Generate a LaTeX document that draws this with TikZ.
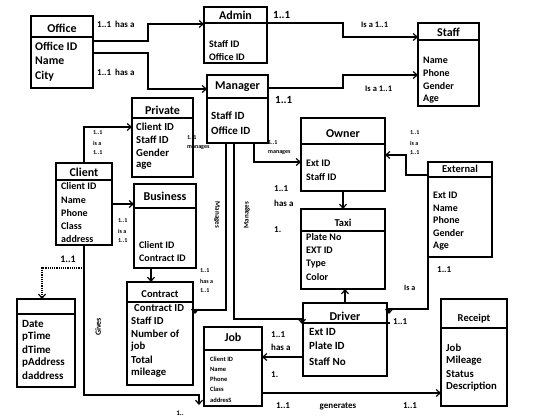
\documentclass[tikz,border=0pt]{standalone}
\usepackage{fontspec}
\setmainfont{Carlito}
\usetikzlibrary{arrows.meta}
\tikzset{
  ent/.style={draw, line width=1.3pt, inner sep=0pt, outer sep=0pt},
  divl/.style={line width=1.3pt},
  conn/.style={line width=1.2pt, -{Straight Barb[length=4pt,width=7pt,line width=1.2pt]}},
  dotconn/.style={line width=1.2pt, densely dotted, -{Straight Barb[length=4pt,width=7pt,line width=1.2pt]}},
  fld/.style={anchor=west, inner sep=0pt, font=\bfseries\fontsize{10}{12}\selectfont},
  midfld/.style={anchor=west, inner sep=0pt, font=\bfseries\fontsize{10.7}{12}\selectfont},
  bigfld/.style={anchor=west, inner sep=0pt, font=\bfseries\fontsize{11}{13}\selectfont},
  hugefld/.style={anchor=west, inner sep=0pt, font=\bfseries\fontsize{11.8}{13}\selectfont},
  smfld/.style={anchor=west, inner sep=0pt, font=\bfseries\fontsize{6.5}{8}\selectfont},
  ttl/.style={inner sep=0pt, font=\bfseries\fontsize{12}{14}\selectfont},
  sttl/.style={inner sep=0pt, font=\bfseries\fontsize{10.5}{12}\selectfont},
  lab/.style={inner sep=0pt, font=\bfseries\fontsize{9}{11}\selectfont},
  tiny/.style={inner sep=0pt, anchor=west, font=\bfseries\fontsize{6}{7}\selectfont},
}
\newcommand\ent[6]{%
  \node[ent, minimum width={#4-#2}, minimum height={#5-#3}] (#1) at ({(#2+#4)/2},{(#3+#5)/2}) {};
  \draw[divl] (#2,#6) -- (#4,#6);
}
\begin{document}
\begin{tikzpicture}[x=1pt,y=-1pt]
\useasboundingbox[fill=white] (0,0) rectangle (560,420);

% entities
\ent{office}{31}{16}{93}{88}{37}
\node[ttl] (officet) at (62,28) {Office};
\node[hugefld] (office1) at (35,46) {Office ID};
\node[hugefld] (office2) at (35,61) {Name};
\node[hugefld] (office3) at (35,76) {City};

\ent{admin}{204}{7}{267}{63}{23}
\node[ttl] (admint) at (235.5,15) {Admin};
\node[fld] (admin1) at (209,44) {Staff ID};
\node[fld] (admin2) at (209,57) {Office ID};

\ent{manager}{207}{75}{268}{143}{98}
\node[ttl] (managert) at (237.5,87) {Manager};
\node[bigfld] (manager1) at (211,116) {Staff ID};
\node[bigfld] (manager2) at (211,131) {Office ID};

\ent{staff}{418}{23}{479}{106}{40}
\node[ttl] (stafft) at (448.5,32) {Staff};
\node[fld] (staff1) at (423,60) {Name};
\node[fld] (staff2) at (423,73) {Phone};
\node[fld] (staff3) at (423,86) {Gender};
\node[fld] (staff4) at (423,99) {Age};

\ent{private}{132}{98}{193}{177}{118}
\node[ttl] (privatet) at (162.5,110) {Private};
\node[midfld] (private1) at (136,127) {Client ID};
\node[midfld] (private2) at (136,140) {Staff ID};
\node[midfld] (private3) at (136,153) {Gender};
\node[midfld] (private4) at (136,166) {age};

\ent{client}{56}{163}{112}{245}{180}
\node[ttl] (clientt) at (84,172) {Client};
\node[fld] (client1) at (61,186) {Client ID};
\node[fld] (client2) at (61,200) {Name};
\node[fld] (client3) at (61,213) {Phone};
\node[fld] (client4) at (61,226) {Class};
\node[fld] (client5) at (61,239) {address};

\ent{business}{134}{184}{196}{268}{208}
\node[ttl] (businesst) at (165,196) {Business};
\node[fld] (business1) at (139,245) {Client ID};
\node[fld] (business2) at (139,258) {Contract ID};

\ent{contract}{127}{282}{193}{385}{302}
\node[sttl] (contractt) at (160,294) {Contract};
\node[midfld] (contract1) at (134,308) {Contract ID};
\node[midfld] (contract2) at (131,321) {Staff ID};
\node[midfld] (contract3) at (131,334) {Number of};
\node[midfld] (contract4) at (131,347) {job};
\node[midfld] (contract5) at (131,360) {Total};
\node[midfld] (contract6) at (131,373) {mileage};

\ent{owner}{301}{118}{385}{191}{144}
\node[ttl] (ownert) at (343,134) {Owner};
\node[fld] (owner1) at (306,163) {Ext ID};
\node[fld] (owner2) at (306,177) {Staff ID};

\ent{taxi}{301}{209}{385}{289}{231}
\node[sttl] (taxit) at (343,223) {Taxi};
\node[fld] (taxi1) at (306,237) {Plate No};
\node[fld] (taxi2) at (306,250) {EXT ID};
\node[fld] (taxi3) at (306,264) {Type};
\node[fld] (taxi4) at (306,277) {Color};

\ent{external}{428}{162}{492}{257}{177}
\node[sttl] (externalt) at (460,169) {External};
\node[fld] (external1) at (433,195) {Ext ID};
\node[fld] (external2) at (433,208) {Name};
\node[fld] (external3) at (433,220) {Phone};
\node[fld] (external4) at (433,233) {Gender};
\node[fld] (external5) at (433,246) {Age};

\ent{driver}{303}{303}{387}{376}{323}
\draw[divl] (387,323) -- (390,323);
\node[ttl] (drivert) at (345,316) {Driver};
\node[bigfld] (driver1) at (309,332) {Ext ID};
\node[bigfld] (driver2) at (309,346) {Plate ID};
\node[bigfld] (driver3) at (309,362) {Staff No};

\ent{receipt}{441}{299}{507}{406}{328}
\node[sttl] (receiptt) at (474,319) {Receipt};
\node[midfld] (receipt1) at (446,348) {Job};
\node[midfld] (receipt2) at (446,361) {Mileage};
\node[midfld] (receipt3) at (446,374) {Status};
\node[midfld] (receipt4) at (446,387) {Description};

\ent{job}{204}{327}{262}{406}{350}
\node[ttl] (jobt) at (233,337) {Job};
\node[smfld] (job1) at (210,359) {Client ID};
\node[smfld] (job2) at (210,369) {Name};
\node[smfld] (job3) at (210,379) {Phone};
\node[smfld] (job4) at (210,389) {Class};
\node[smfld] (job5) at (210,400) {addresS};

\ent{trip}{17}{299}{75}{387}{314}
\node[bigfld] (trip1) at (22,324) {Date};
\node[bigfld] (trip2) at (22,337) {pTime};
\node[bigfld] (trip3) at (22,350) {dTime};
\node[bigfld] (trip4) at (22,363) {pAddress};
\node[bigfld] (trip5) at (22,376) {daddress};

% connectors
\draw[conn] (office.east|-0,41) -- (148,41) |- (admin.west|-0,24);
\draw[conn] (office.east|-0,53) -- (148,53) |- (manager.west|-0,89);
\draw[conn] (admin.east|-0,23) -- (343,23) |- (staff.west|-0,37);
\draw[conn] (manager.east|-0,88) -- (343,88) |- (staff.west|-0,75);
\draw[conn] (client.north) |- (private.west|-0,127);
\draw[conn] (client.east|-0,204) -- (business.west|-0,204);
\draw[conn] (business.south-|151,0) -- (contract.north-|151,0);
\draw[conn] (manager.south-|226,0) |- (195,310) -- (195,314);
\draw[conn] (manager.south-|234,0) |- (302,319) -- (302,324);
\draw[conn] (manager.south-|254,0) |- (owner.west|-0,162);
\draw[conn] (owner.south-|343,0) -- (taxi.north-|343,0);
\draw[conn] (driver.north-|345,0) -- (taxi.south-|345,0);
\draw[conn] (external.west|-0,175) -- (406,175) |- (owner.east|-0,155);
\draw[conn] (external.south west) |- (389,309) -- (389,314);
\draw[conn] (driver.west|-0,357) -- (job.east|-0,357);
\draw[conn] (job.east|-0,393) -- (receipt.west|-0,393);
\draw[conn] (client.south) |- (199,395) -- (199,405);
\coordinate (dj) at (84,268);
\draw[dotconn] (dj) -| (trip.north-|42,0);

% labels
\node[lab, anchor=west] (l1) at (97,24) {1..1~~has a};
\node[lab, anchor=west] (l2) at (97,72) {1..1~~has a};
\node[lab, anchor=west, font=\bfseries\fontsize{11}{13}\selectfont] (l3) at (273,15) {1..1};
\node[lab, anchor=west, font=\bfseries\fontsize{11}{13}\selectfont] (l4) at (275,100) {1..1};
\node[lab, anchor=west, font=\bfseries\fontsize{8.5}{10}\selectfont] (l5) at (361,25) {Is a 1..1};
\node[lab, anchor=west, font=\bfseries\fontsize{8.5}{10}\selectfont] (l6) at (365,89) {Is a 1..1};
\node[tiny] (l7) at (93,133) {1..1};
\node[tiny] (l8) at (93,143) {is a};
\node[tiny] (l9) at (93,153) {1..1};
\node[tiny] (l10) at (187,138) {1..1};
\node[tiny] (l11) at (187,148) {manages};
\node[tiny] (l12) at (118,221) {1..1};
\node[tiny] (l13) at (118,231) {is a};
\node[tiny] (l14) at (118,241) {1..1};
\node[inner sep=0pt, rotate=-90, font=\bfseries\fontsize{7}{8}\selectfont] (l15) at (217,215) {Manages};
\node[inner sep=0pt, rotate=90, font=\bfseries\fontsize{7}{8}\selectfont] (l16) at (247,215) {Manages};
\node[tiny] (l17) at (268,143) {1..1};
\node[tiny] (l18) at (268,153) {manages};
\node[lab, anchor=west] (l19) at (274,189) {1..1};
\node[lab, anchor=west] (l20) at (274,203) {has a};
\node[lab, anchor=west] (l21) at (274,230) {1.};
\node[tiny] (l22) at (410,133) {1..1};
\node[tiny] (l23) at (410,143) {is a};
\node[tiny] (l24) at (410,153) {1..1};
\node[lab, anchor=west] (l25) at (437,270) {1..1};
\node[lab, anchor=west, font=\bfseries\fontsize{8}{10}\selectfont] (l26) at (404,288) {Is a};
\node[lab, anchor=west] (l27) at (393,322) {1..1};
\node[tiny] (l28) at (200,271) {1..1};
\node[tiny] (l29) at (200,281) {has a};
\node[tiny] (l30) at (200,291) {1..1};
\node[lab, font=\bfseries\fontsize{10}{12}\selectfont] (l31) at (68,259) {1..1};
\node[inner sep=0pt, rotate=90, font=\bfseries\fontsize{8}{10}\selectfont] (l32) at (98,327) {Gives};
\node[lab, font=\bfseries\fontsize{7}{8}\selectfont] (l33) at (180,413) {1..};
\node[lab, anchor=west] (l34) at (271,335) {1..1};
\node[lab, anchor=west] (l35) at (271,347) {has a};
\node[lab, anchor=west] (l36) at (271,375) {1.};
\node[lab] (l37) at (283,406) {1..1};
\node[lab] (l38) at (338,406) {generates};
\node[lab] (l39) at (410,406) {1..1};
\end{tikzpicture}
\end{document}
